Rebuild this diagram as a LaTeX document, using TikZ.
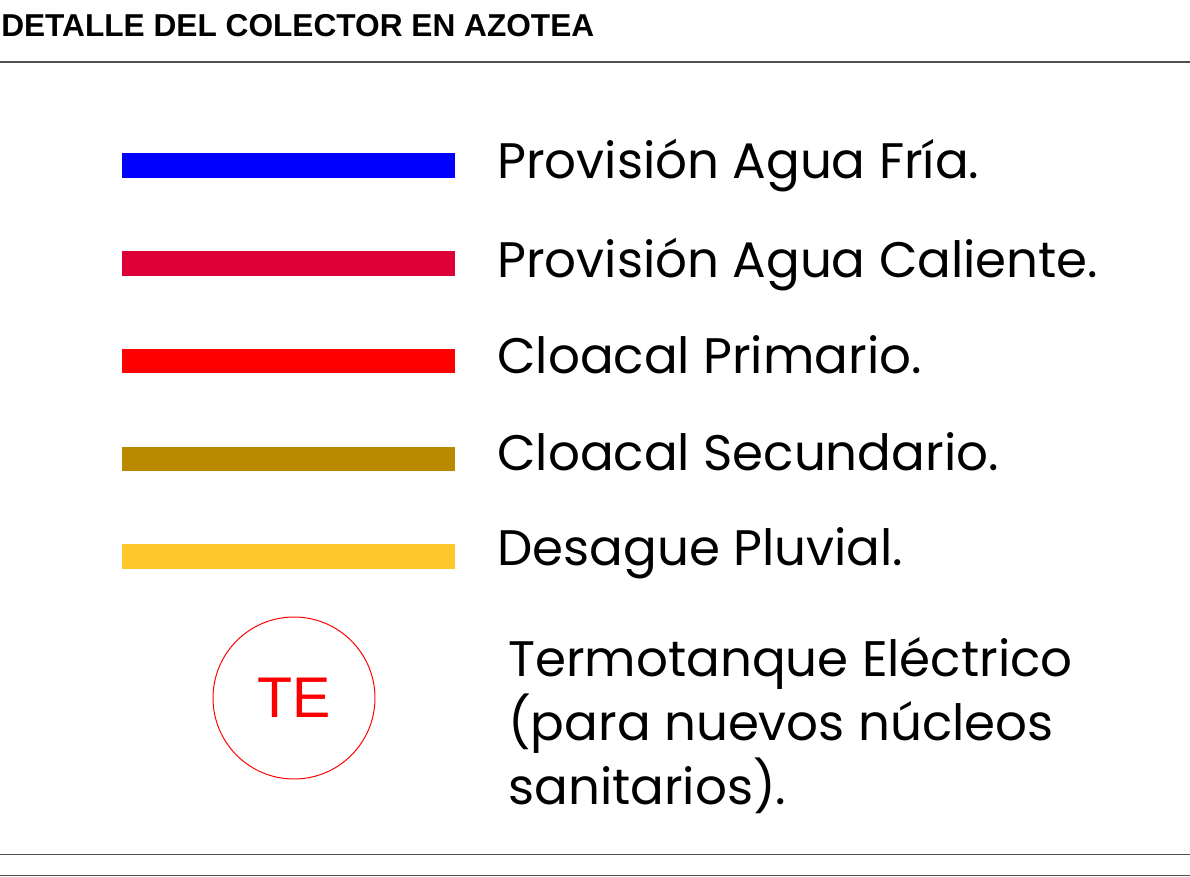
\documentclass[tikz,border=0pt]{standalone}
\usepackage{fontspec}
\setmainfont{Poppins}
\newfontfamily\titlefont{Liberation Sans}
\usetikzlibrary{positioning}

\definecolor{aguafria}{RGB}{0,0,255}
\definecolor{aguacaliente}{RGB}{220,0,55}
\definecolor{cloacaprim}{RGB}{255,0,0}
\definecolor{cloacasec}{RGB}{185,138,0}
\definecolor{pluvial}{RGB}{255,200,42}
\definecolor{marco}{RGB}{80,80,80}

\tikzset{
    legendtext/.style={anchor=base west,inner sep=0pt,
        font=\fontsize{35.5}{45.2}\selectfont},
    frameline/.style={draw=marco,line width=1.4pt}
}

\begin{document}
\begin{tikzpicture}[x=0.025cm,y=-0.025cm]
        \useasboundingbox (0,0) rectangle (1190,876);

        % Title
        \node [anchor=base west,inner sep=0pt,
            font=\titlefont\bfseries\fontsize{22.5}{27}\selectfont]
            (titulo) at (1,36) {DETALLE DEL COLECTOR EN AZOTEA};

        % Frame lines
        \draw [frameline] (0,62) -- (1190,62);
        \draw [frameline] (0,854.5) -- (1190,854.5);
        \draw [draw=marco,line width=0.8pt] (0,875.5) -- (1190,875.5);

        % Legend bars
        \path [fill=aguafria] (122,153) rectangle (455,178);
        \path [fill=aguacaliente] (122,251) rectangle (455,276);
        \path [fill=cloacaprim] (122,349) rectangle (455,373);
        \path [fill=cloacasec] (122,447) rectangle (455,471);
        \path [fill=pluvial] (122,544) rectangle (455,569);

        % Legend texts
        \node [legendtext] (fria) at (497,178) {Provisión Agua Fría.};
        \node [legendtext] (caliente) at (497,277) {Provisión Agua Caliente.};
        \node [legendtext] (primario) at (497,373) {Cloacal Primario.};
        \node [legendtext] (secundario) at (497,470) {Cloacal Secundario.};
        \node [legendtext] (desague) at (497,565) {Desague Pluvial.};

        % Termotanque symbol
        \node [circle,draw=red,line width=0.7pt,minimum size=162*0.025cm,
            inner sep=0pt,text=red,font=\titlefont\fontsize{40.8}{48}\selectfont]
            (te) at (294,698) {TE};
        \node [legendtext,align=left] (termo) at (508,804)
            {Termotanque Eléctrico\\(para nuevos núcleos\\sanitarios).};

    \end{tikzpicture}
\end{document}
